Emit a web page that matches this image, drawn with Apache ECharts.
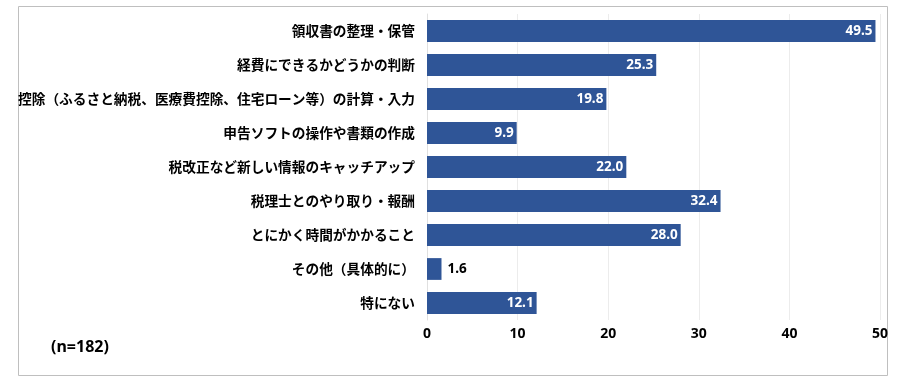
<!DOCTYPE html>
<html><head><meta charset="utf-8">
<script src="https://cdn.jsdelivr.net/npm/echarts@6/dist/echarts.min.js"></script>
<style>html,body{margin:0;padding:0;background:#fff}#c{width:902px;height:386px}</style>
</head><body><div id="c"></div>
<script>
const categories = ['領収書の整理・保管','経費にできるかどうかの判断','控除（ふるさと納税、医療費控除、住宅ローン等）の計算・入力','申告ソフトの操作や書類の作成','税改正など新しい情報のキャッチアップ','税理士とのやり取り・報酬','とにかく時間がかかること','その他（具体的に）','特にない'];
const values = [49.5,25.3,19.8,9.9,22.0,32.4,28.0,1.6,12.1];
const xTicks = [0,10,20,30,40,50];
const note = '(n=182)';

const font = '"Noto Sans CJK JP","Noto Sans",sans-serif';
const chart = echarts.init(document.getElementById('c'));
const data = values.map(v => v < 5 ? {value:v, label:{position:'right', color:'#000', distance:6}} : {value:v});
chart.setOption({
  animation:false,
  grid:{left:427, right:22, top:14, bottom:66},
  xAxis:{type:'value', min:xTicks[0], max:xTicks[xTicks.length-1], interval:10,
    axisLine:{show:false}, axisTick:{show:false},
    splitLine:{show:true, lineStyle:{color:'#ececec', width:1}},
    axisLabel:{color:'#000', fontWeight:'bold', fontSize:14, fontFamily:'"Noto Sans",sans-serif', margin:7}},
  yAxis:{type:'category', data:categories, inverse:true,
    axisLine:{show:true, lineStyle:{color:'#e0e0e0'}}, axisTick:{show:false},
    axisLabel:{color:'#000', fontWeight:'bold', fontSize:13.7, fontFamily:font, margin:12}},
  series:[{type:'bar', data:data, barWidth:'64%', itemStyle:{color:'#2F5597'},
    label:{show:true, position:'insideRight', color:'#fff', fontWeight:'bold', fontSize:13.5, fontFamily:'"Noto Sans",sans-serif', distance:3,
      formatter:p=>p.value.toFixed(1)}}],
  graphic:[
    {type:'rect', shape:{x:18.5,y:6.5,width:869,height:369}, style:{fill:null, stroke:'#bfbfbf', lineWidth:1}, silent:true},
    {type:'text', left:51, top:339, style:{text:note, font:'bold 16px "Noto Sans",sans-serif', fill:'#000'}}
  ]
});
</script></body></html>
